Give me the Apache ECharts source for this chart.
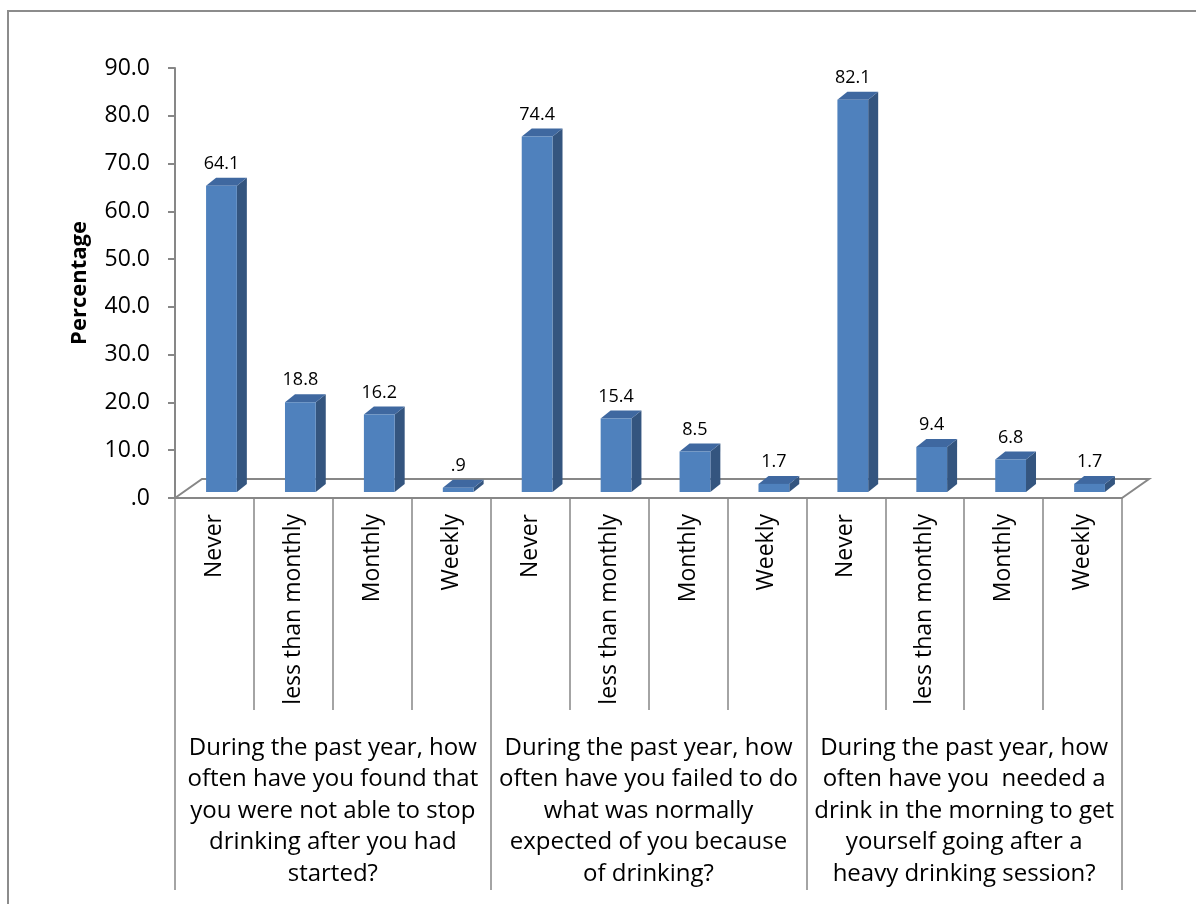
<!DOCTYPE html>
<html>
<head>
<meta charset="utf-8">
<script src="https://cdn.jsdelivr.net/npm/echarts@6/dist/echarts.min.js"></script>
<style>
  html, body { margin: 0; padding: 0; background: #fff; }
  #chart { width: 1196px; height: 904px; }
</style>
</head>
<body>
<div id="chart"></div>
<script>
// Response options, repeated for each question
const responses = ['Never', 'less than monthly', 'Monthly', 'Weekly'];

// Survey questions (group labels under the response labels)
const questions = [
  'During the past year, how\noften have you found that\nyou were not able to stop\ndrinking after you had\nstarted?',
  'During the past year, how\noften have you failed to do\nwhat was normally\nexpected of you because\nof drinking?',
  'During the past year, how\noften have you  needed a\ndrink in the morning to get\nyourself going after a\nheavy drinking session?'
];

// Percentages per question, in the order of `responses`
const unableToStop = [64.1, 18.8, 16.2, 0.9];
const failedExpected = [74.4, 15.4, 8.5, 1.7];
const morningDrink = [82.1, 9.4, 6.8, 1.7];

// Value axis range
const yMin = 0;
const yMax = 90;
const yStep = 10;

const categories = [].concat(responses, responses, responses);
const values = [].concat(unableToStop, failedExpected, morningDrink);

const FONT = '"Open Sans", "Noto Sans", "Liberation Sans", sans-serif';
const AXIS_GRAY = '#878787';

// "#.0" style number format: 0.9 -> ".9", 0 -> ".0"
function fmt(v) {
  let s = Number(v).toFixed(1);
  if (s.startsWith('0')) s = s.slice(1);
  return s;
}

// 3D column look
const FRONT = '#4F81BD';
const SIDE = '#34557F';
const TOP = '#3F68A0';
const DEPTH_X = 10, DEPTH_Y = 8;      // bar depth projection
const FLOOR_X = 27, FLOOR_Y = 19;     // floor depth projection
const BAR_SHIFT_X = 7, BAR_SHIFT_Y = 6; // bars sit midway into the floor

const chart = echarts.init(document.getElementById('chart'), null, { renderer: 'canvas' });

const option = {
  backgroundColor: '#ffffff',
  animation: false,
  textStyle: { fontFamily: FONT },
  graphic: [{
    type: 'polyline',
    silent: true,
    shape: { points: [[8, 904], [8, 11], [1196, 11]] },
    style: { stroke: '#8c8c8c', lineWidth: 2, fill: null }
  }],
  grid: { left: 175, right: 74, top: 68, bottom: 406, containLabel: false },
  xAxis: [{
    type: 'category',
    data: categories,
    boundaryGap: true,
    axisLine: { show: true, lineStyle: { color: AXIS_GRAY, width: 2 } },
    axisTick: { show: true, interval: 0, length: 212, lineStyle: { color: AXIS_GRAY, width: 1.5 } },
    axisLabel: {
      interval: 0, rotate: 90, margin: 16,
      fontSize: 23, color: '#000', fontFamily: FONT
    },
    splitLine: { show: false }
  }, {
    type: 'category',
    data: questions,
    position: 'bottom',
    boundaryGap: true,
    axisLine: { show: false },
    axisTick: { show: true, interval: 0, length: 392, lineStyle: { color: AXIS_GRAY, width: 1.5 } },
    axisLabel: {
      interval: 0, margin: 234, lineHeight: 31.5,
      fontSize: 24, color: '#000', fontFamily: FONT, align: 'center'
    },
    splitLine: { show: false }
  }],
  yAxis: {
    type: 'value',
    min: yMin, max: yMax, interval: yStep,
    name: 'Percentage',
    nameLocation: 'middle',
    nameRotate: 90,
    nameGap: 84,
    nameTextStyle: { fontSize: 22, fontWeight: 'bold', color: '#000', fontFamily: FONT },
    axisLine: { show: true, lineStyle: { color: AXIS_GRAY, width: 2 } },
    axisTick: { show: true, length: 7, lineStyle: { color: AXIS_GRAY, width: 2 } },
    axisLabel: { formatter: fmt, fontSize: 23, color: '#000', margin: 25, fontFamily: FONT },
    splitLine: { show: false }
  },
  series: [{
    // floor of the 3D plot area (front edge is the category axis line)
    type: 'custom',
    silent: true,
    z: 1,
    data: [[0, 0]],
    encode: { x: 0, y: 1 },
    renderItem: function (params, api) {
      const p = api.coord([0, yMin]);
      const w = api.size([1, 0])[0];
      const x0 = p[0] - w / 2;
      const x1 = x0 + categories.length * w;
      const y0 = p[1];
      return {
        type: 'polyline',
        shape: { points: [[x0, y0], [x0 + FLOOR_X, y0 - FLOOR_Y], [x1 + FLOOR_X, y0 - FLOOR_Y], [x1, y0]] },
        style: { stroke: AXIS_GRAY, lineWidth: 2, fill: null }
      };
    }
  }, {
    // 3D columns with value labels
    type: 'custom',
    z: 3,
    data: values.map((v, i) => [i, v]),
    encode: { x: 0, y: 1 },
    renderItem: function (params, api) {
      const i = api.value(0);
      const v = api.value(1);
      const base = api.coord([i, yMin]);
      const top = api.coord([i, v]);
      const w = api.size([1, 0])[0];
      const bw = w * 0.39;
      const cx = base[0] + BAR_SHIFT_X;
      const xl = cx - bw / 2, xr = cx + bw / 2;
      const yb = base[1] - BAR_SHIFT_Y;
      const yt = top[1] - BAR_SHIFT_Y;
      return {
        type: 'group',
        children: [{
          type: 'polygon',
          shape: { points: [[xr, yb], [xr + DEPTH_X, yb - DEPTH_Y], [xr + DEPTH_X, yt - DEPTH_Y], [xr, yt]] },
          style: { fill: SIDE }
        }, {
          type: 'polygon',
          shape: { points: [[xl, yt], [xr, yt], [xr + DEPTH_X, yt - DEPTH_Y], [xl + DEPTH_X, yt - DEPTH_Y]] },
          style: { fill: TOP }
        }, {
          type: 'rect',
          shape: { x: xl, y: yt, width: bw, height: yb - yt },
          style: { fill: FRONT }
        }, {
          type: 'text',
          style: {
            text: fmt(v), x: cx, y: yt - 13,
            align: 'center', verticalAlign: 'bottom',
            fill: '#000', font: '18px ' + FONT
          }
        }]
      };
    }
  }]
};

chart.setOption(option);
</script>
</body>
</html>
